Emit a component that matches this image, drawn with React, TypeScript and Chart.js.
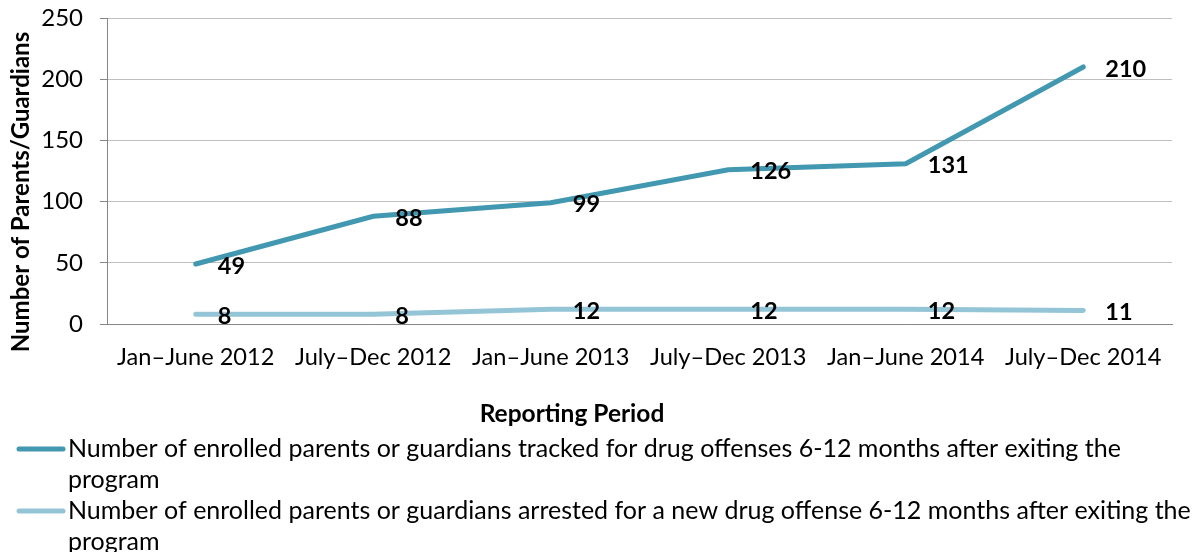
import React, { useEffect, useRef } from "react";
import { Chart, registerables } from "chart.js";

Chart.register(...registerables);

const categories = [
  "Jan–June 2012",
  "July–Dec 2012",
  "Jan–June 2013",
  "July–Dec 2013",
  "Jan–June 2014",
  "July–Dec 2014",
];
const trackedValues = [49, 88, 99, 126, 131, 210];
const arrestedValues = [8, 8, 12, 12, 12, 11];
const yTickValues = [0, 50, 100, 150, 200, 250];
const yAxisTitle = "Number of Parents/Guardians";
const xAxisTitle = "Reporting Period";
const trackedLegendLines = [
  "Number of enrolled parents or guardians tracked for drug offenses 6-12 months after exiting the",
  "program",
];
const arrestedLegendLines = [
  "Number of enrolled parents or guardians arrested for a new drug offense 6-12 months after exiting the",
  "program",
];

const FONT = "Lato, 'Open Sans', sans-serif";
const DARK = "#4298B0";
const LIGHT = "#93C5D7";

const labelPlugin = {
  id: "valueLabels",
  afterDatasetsDraw(chart: any) {
    const ctx = chart.ctx;
    ctx.save();
    ctx.font = `bold 23.5px ${FONT}`;
    ctx.fillStyle = "#000";
    ctx.textAlign = "left";
    ctx.textBaseline = "middle";
    chart.data.datasets.forEach((ds: any, di: number) => {
      const meta = chart.getDatasetMeta(di);
      meta.data.forEach((pt: any, i: number) => {
        ctx.fillText(String(ds.data[i]), pt.x + 22, pt.y + 2);
      });
    });
    ctx.restore();
  },
};

const decorPlugin = {
  id: "decor",
  afterDraw(chart: any) {
    const ctx = chart.ctx;
    ctx.save();
    // y axis title
    ctx.font = `bold 24px ${FONT}`;
    ctx.fillStyle = "#000";
    ctx.textAlign = "center";
    ctx.textBaseline = "middle";
    ctx.translate(21, 192);
    ctx.rotate(-Math.PI / 2);
    ctx.fillText(yAxisTitle, 0, 0);
    ctx.setTransform(1, 0, 0, 1, 0, 0);
    // x axis title
    ctx.font = `bold 24.5px ${FONT}`;
    ctx.fillText(xAxisTitle, 572, 414);
    // legend
    const items = [
      { color: DARK, lines: trackedLegendLines, y: 449 },
      { color: LIGHT, lines: arrestedLegendLines, y: 511 },
    ];
    ctx.font = `25px ${FONT}`;
    ctx.textAlign = "left";
    items.forEach((it) => {
      ctx.strokeStyle = it.color;
      ctx.lineWidth = 5;
      ctx.lineCap = "round";
      ctx.beginPath();
      ctx.moveTo(19, it.y);
      ctx.lineTo(63, it.y);
      ctx.stroke();
      it.lines.forEach((ln, k) => {
        ctx.fillText(ln, 68, it.y + k * 31);
      });
    });
    ctx.restore();
  },
};

export default function App() {
  const ref = useRef<HTMLCanvasElement>(null);
  useEffect(() => {
    document.body.style.margin = "0";
    const chart = new Chart(ref.current!, {
      type: "line",
      data: {
        labels: categories,
        datasets: [
          {
            label: trackedLegendLines.join(" "),
            data: trackedValues,
            borderColor: DARK,
            backgroundColor: DARK,
            borderWidth: 5,
            pointRadius: 0,
            borderCapStyle: "round",
            tension: 0,
          },
          {
            label: arrestedLegendLines.join(" "),
            data: arrestedValues,
            borderColor: LIGHT,
            backgroundColor: LIGHT,
            borderWidth: 5,
            pointRadius: 0,
            borderCapStyle: "round",
            tension: 0,
          },
        ],
      },
      options: {
        animation: false,
        responsive: false,
        layout: { padding: { top: 18, right: 29, left: 0, bottom: 0 } },
        plugins: {
          legend: { display: false },
          tooltip: { enabled: false },
        },
        scales: {
          x: {
            offset: true,
            grid: { display: false },
            border: { display: true, color: "#868686", width: 1 },
            ticks: {
              color: "#000",
              font: { family: FONT, size: 23.6 },
              padding: 11,
              maxRotation: 0,
              autoSkip: false,
            },
            afterFit: (s: any) => {
              s.height = 228;
              s.paddingLeft = 0;
              s.paddingRight = 0;
            },
          },
          y: {
            min: 0,
            max: 250,
            afterBuildTicks: (s: any) => {
              s.ticks = yTickValues.map((v) => ({ value: v }));
            },
            grid: { color: "#BFBFBF", lineWidth: 1, tickLength: 7, drawTicks: true, tickColor: "#868686" },
            border: { display: true, color: "#868686", width: 1 },
            ticks: {
              color: "#000",
              font: { family: FONT, size: 24 },
              padding: 17,
            },
            afterFit: (s: any) => {
              s.width = 107;
              s.paddingTop = 0;
              s.paddingBottom = 0;
            },
          },
        },
      },
      plugins: [labelPlugin, decorPlugin],
    });
    return () => chart.destroy();
  }, []);
  return <canvas ref={ref} width={1201} height={552} style={{ display: "block" }} />;
}
